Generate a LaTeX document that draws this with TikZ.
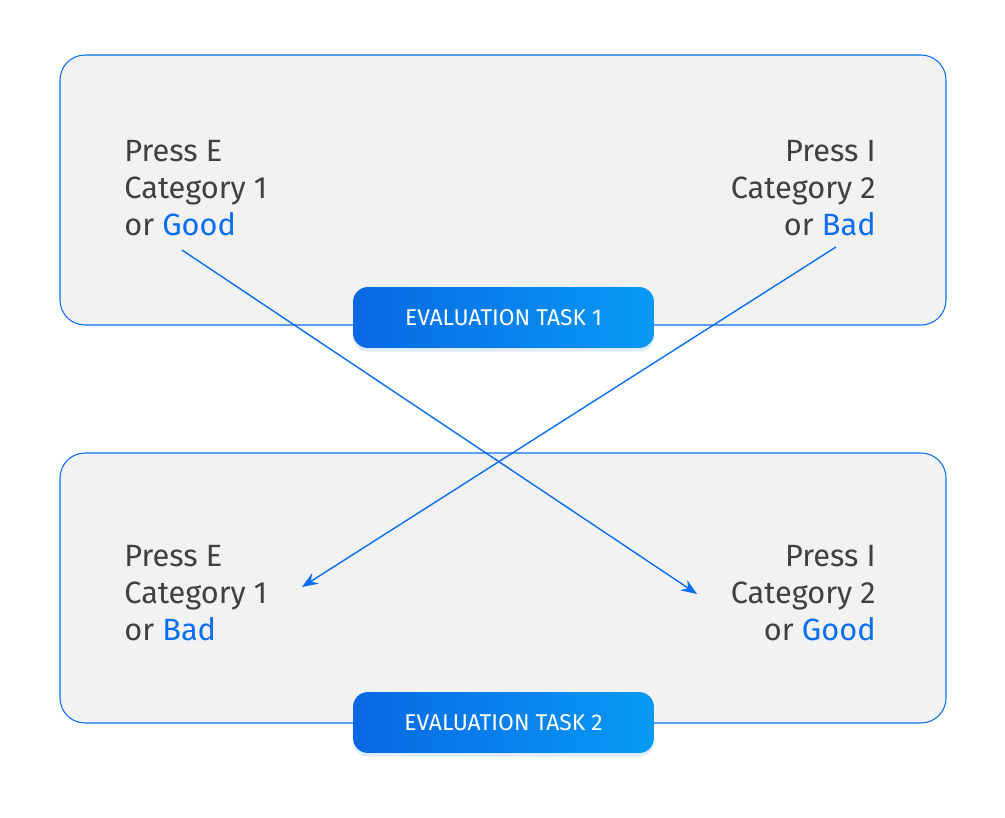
\documentclass[tikz,border=0pt]{standalone}
\usepackage{fontspec}
\setmainfont{Fira Sans}
\usetikzlibrary{shadows,arrows.meta}
\definecolor{txtgray}{HTML}{404040}
\definecolor{accent}{HTML}{0A6EF0}
\definecolor{panel}{HTML}{F2F2F2}
\tikzset{
  panelbox/.style={draw=accent, line width=0.6pt, fill=panel, rounded corners=0.5cm},
  taskbadge/.style={rounded corners=0.3cm, minimum width=6.02cm, minimum height=1.22cm,
    left color=accent!95!black, right color=accent!70!cyan, text=white, font=\fontsize{13}{15}\selectfont,
    drop shadow={fill=accent!40, opacity=.35, shadow xshift=0pt, shadow yshift=-2pt}},
  keytext/.style={text=txtgray, font=\fontsize{17.5}{21}\selectfont, inner sep=0pt},
  cross/.style={draw=accent, line width=0.8pt, -{Stealth[length=9pt,width=7pt]}}
}
\newcommand{\hl}[1]{\textcolor{accent}{#1}}
\begin{document}
\begin{tikzpicture}[x=0.02cm,y=-0.02cm]
\useasboundingbox (0,0) rectangle (1005,818);

% panels
\draw[panelbox] (60,55) rectangle (946,325);
\draw[panelbox] (60,453) rectangle (946,723);

% task 1
\node[keytext, anchor=north west, align=left] (tl1) at (124,140) {Press E\\Category 1\\or \hl{Good}};
\node[keytext, anchor=north east, align=right] (tr1) at (876,140) {Press I\\Category 2\\or \hl{Bad}};
\node[taskbadge] (badge1) at (503.5,317.5) {EVALUATION TASK 1};

% task 2
\node[keytext, anchor=north west, align=left] (tl2) at (124,545) {Press E\\Category 1\\or \hl{Bad}};
\node[keytext, anchor=north east, align=right] (tr2) at (876,545) {Press I\\Category 2\\or \hl{Good}};
\node[taskbadge] (badge2) at (503.5,722.5) {EVALUATION TASK 2};

% arrows
\coordinate (goodA) at (182,250);
\coordinate (goodB) at (697,594);
\coordinate (badA) at (836,247);
\coordinate (badB) at (302,587);
\draw[cross] (goodA) -- (goodB);
\draw[cross] (badA) -- (badB);
\end{tikzpicture}
\end{document}
